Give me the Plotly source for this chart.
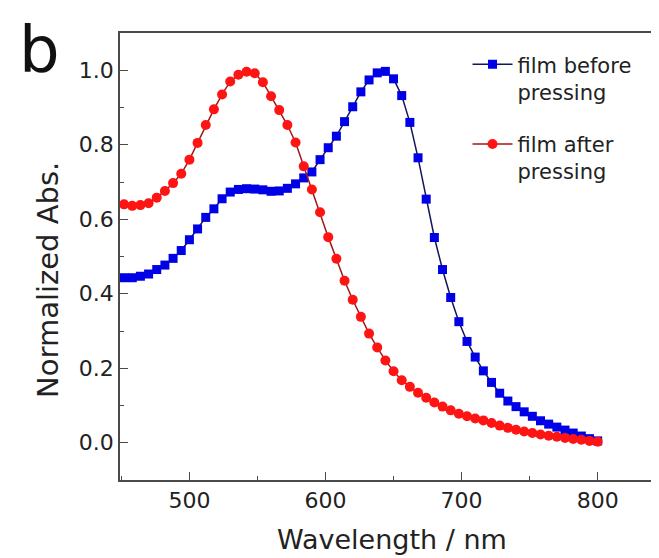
import plotly.graph_objects as go

# Wavelength grid (nm)
wavelength = list(range(452, 801, 6))

# film before pressing (blue squares)
abs_before = [
    0.443, 0.443, 0.447, 0.453, 0.465, 0.477, 0.495, 0.516, 0.545, 0.574,
    0.605, 0.628, 0.655, 0.673, 0.680, 0.682, 0.681, 0.679, 0.675, 0.676,
    0.683, 0.695, 0.711, 0.727, 0.760, 0.792, 0.823, 0.862, 0.902, 0.942,
    0.974, 0.993, 0.997, 0.977, 0.932, 0.860, 0.765, 0.654, 0.551, 0.465,
    0.390, 0.325, 0.272, 0.230, 0.193, 0.162, 0.133, 0.112, 0.097, 0.083,
    0.071, 0.059, 0.050, 0.042, 0.034, 0.026, 0.018, 0.011, 0.005,
]

# film after pressing (red circles)
abs_after = [
    0.640, 0.636, 0.638, 0.643, 0.658, 0.676, 0.697, 0.722, 0.760, 0.805,
    0.853, 0.895, 0.935, 0.970, 0.988, 0.996, 0.992, 0.968, 0.930, 0.893,
    0.853, 0.806, 0.742, 0.680, 0.619, 0.552, 0.494, 0.435, 0.384, 0.338,
    0.293, 0.256, 0.221, 0.192, 0.168, 0.150, 0.134, 0.121, 0.108, 0.097,
    0.087, 0.078, 0.071, 0.065, 0.060, 0.053, 0.046, 0.040, 0.035, 0.030,
    0.026, 0.022, 0.019, 0.016, 0.013, 0.010, 0.008, 0.005, 0.003,
]

series_names = ["film before<br>pressing", "film after<br>pressing"]

FONT = "DejaVu Sans"
AXIS_COLOR = "#4a4a4a"

fig = go.Figure()
fig.add_trace(go.Scatter(
    x=wavelength, y=abs_before, name=series_names[0], legendgroup="a",
    mode="lines+markers",
    line=dict(color="#15155c", width=1.5),
    marker=dict(symbol="square", size=9, color="#0000e6"),
))
fig.add_trace(go.Scatter(
    x=wavelength, y=abs_after, name=series_names[1], legendgroup="b",
    mode="lines+markers",
    line=dict(color="#a01818", width=1.5),
    marker=dict(symbol="circle", size=10, color="#ff1414"),
))

axis_common = dict(
    showline=True, linecolor=AXIS_COLOR, linewidth=1.5, mirror=True,
    ticks="inside", ticklen=8, tickwidth=1.3, tickcolor=AXIS_COLOR,
    showgrid=False, zeroline=False,
    tickfont=dict(family=FONT, size=22, color="#222"),
)

fig.update_xaxes(
    range=[449, 848], tick0=0, dtick=100,
    minor=dict(dtick=50, ticks="inside", ticklen=4, tickcolor=AXIS_COLOR, showgrid=False),
    **axis_common,
)
fig.update_yaxes(
    range=[-0.1, 1.1], tick0=0, dtick=0.2, tickformat=".1f",
    minor=dict(dtick=0.1, ticks="inside", ticklen=4, tickcolor=AXIS_COLOR, showgrid=False),
    **axis_common,
)

fig.update_layout(
    width=659, height=558,
    margin=dict(l=112, r=2, t=25, b=86),
    paper_bgcolor="white", plot_bgcolor="white",
    showlegend=True,
    legend=dict(
        x=0.64, y=0.975, xanchor="left", yanchor="top",
        font=dict(family=FONT, size=21, color="#222"),
        bgcolor="rgba(0,0,0,0)", borderwidth=0,
        valign="top", tracegroupgap=22, itemwidth=40,
    ),
    annotations=[
        dict(text="Wavelength / nm", xref="paper", yref="paper",
             x=0.5, y=-0.132, xanchor="center", yanchor="middle",
             showarrow=False, font=dict(family=FONT, size=27, color="#222")),
        dict(text="Normalized Abs.", xref="paper", yref="paper",
             x=-0.133, y=0.447, xanchor="center", yanchor="middle", textangle=-90,
             showarrow=False, font=dict(family=FONT, size=29, color="#222")),
        dict(text="b", xref="paper", yref="paper",
             x=-0.19, y=1.05, xanchor="left", yanchor="top",
             showarrow=False, font=dict(family=FONT, size=64, color="#111")),
    ],
)

fig.write_html("out.html")
